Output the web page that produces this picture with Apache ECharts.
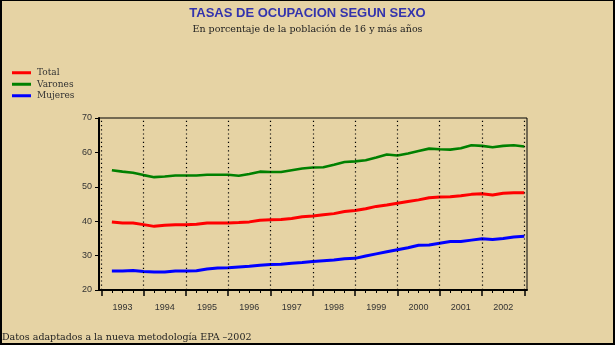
<!DOCTYPE html>
<html><head><meta charset="utf-8">
<script src="https://cdn.jsdelivr.net/npm/echarts@6/dist/echarts.min.js"></script>
<style>
html,body{margin:0;padding:0;background:#E6D3A4}
#wrap{position:relative;width:615px;height:345px}
#chart{width:615px;height:345px}
#frame{position:absolute;left:0;top:0;width:615px;height:345px;box-sizing:border-box;border-style:solid;border-color:#000;border-width:1px 2px 2px 2px;pointer-events:none}
</style></head><body>
<div id="wrap"><div id="chart"></div><div id="frame"></div></div>
<script>
const titleText = 'TASAS DE OCUPACION SEGUN SEXO';
const subtitleText = 'En porcentaje de la población de 16 y más años';
const footnoteText = 'Datos adaptados a la nueva metodología EPA –2002';
const seriesNames = ['Total', 'Varones', 'Mujeres'];
const years = [1993, 1994, 1995, 1996, 1997, 1998, 1999, 2000, 2001, 2002];
const yTicks = [20, 30, 40, 50, 60, 70];
// quarterly values, 1993-I ... 2002-IV
const total = [39.8,39.5,39.5,39.0,38.5,38.8,39.0,39.0,39.1,39.5,
               39.5,39.5,39.6,39.8,40.3,40.4,40.5,40.8,41.3,41.5,
               41.9,42.2,42.8,43.1,43.6,44.3,44.7,45.2,45.7,46.2,
               46.8,47.0,47.1,47.4,47.8,48.0,47.6,48.1,48.3,48.3];
const varones = [54.8,54.4,54.1,53.4,52.8,53.0,53.3,53.3,53.3,53.5,
                 53.5,53.5,53.2,53.7,54.4,54.3,54.3,54.8,55.3,55.6,
                 55.7,56.4,57.2,57.4,57.7,58.5,59.4,59.1,59.7,60.4,
                 61.1,60.9,60.8,61.2,62.1,61.9,61.5,61.9,62.1,61.7];
const mujeres = [25.5,25.5,25.7,25.4,25.2,25.2,25.5,25.5,25.6,26.1,
                 26.4,26.5,26.7,26.9,27.2,27.4,27.5,27.8,28.0,28.3,
                 28.5,28.7,29.1,29.2,29.9,30.5,31.1,31.7,32.3,33.0,
                 33.1,33.6,34.1,34.1,34.5,34.9,34.7,35.0,35.4,35.6];

const quarterTimes = [];
years.forEach(y => { for (let q = 1; q <= 4; q++) quarterTimes.push(y + q / 4); });
const yearBounds = years.concat([years[years.length - 1] + 1]);
const yearMids = years.map(y => y + 0.5);
const minorTicks = [];
years.forEach(y => { for (let q = 1; q <= 3; q++) minorTicks.push(y + q / 4); });

const xMin = 1992.9456, xMax = 2003.0638;
const serifFont = '"DejaVu Serif", "Liberation Serif", serif';
const sansFont = '"Liberation Sans", Arial, sans-serif';

const chart = echarts.init(document.getElementById('chart'), null, {renderer: 'canvas'});
const mk = (name, vals, color, w) => ({
  name, type: 'line', data: quarterTimes.map((t, i) => [t, vals[i]]),
  xAxisIndex: 0, yAxisIndex: 0, symbol: 'none', smooth: false, z: 3,
  lineStyle: {color, width: w}, itemStyle: {color}
});

chart.setOption({
  backgroundColor: '#E6D3A4',
  animation: false,
  title: [
    {text: titleText, left: 'center', top: 2,
     textStyle: {fontFamily: sansFont, fontSize: 13, fontWeight: 'bold', color: '#3333AD'}},
    {text: subtitleText, left: 'center', top: 20,
     textStyle: {fontFamily: serifFont, fontSize: 9.5, fontWeight: 'normal', color: '#222'}},
    {text: footnoteText, left: -3, top: 328,
     textStyle: {fontFamily: serifFont, fontSize: 9.5, fontWeight: 'normal', color: '#222'}}
  ],
  legend: {
    data: seriesNames, orient: 'vertical', left: 7, top: 62,
    icon: 'rect', itemWidth: 19, itemHeight: 3, itemGap: 0,
    textStyle: {fontFamily: serifFont, fontSize: 9, color: '#333', lineHeight: 11.5, padding: [0, 0, 0, 1]}
  },
  grid: {left: 99, top: 118, width: 428, height: 172, show: true,
         borderColor: '#000', borderWidth: 1, backgroundColor: 'transparent'},
  xAxis: [
    {type: 'value', min: xMin, max: xMax, position: 'bottom',
     axisLine: {show: true, lineStyle: {color: '#000', width: 2}},
     axisTick: {show: true, customValues: yearBounds, length: 6, lineStyle: {color: '#000', width: 1.5}},
     axisLabel: {show: true, customValues: yearMids, formatter: v => String(Math.floor(v)),
                 margin: 13, fontFamily: '"Liberation Sans Narrow", ' + sansFont, fontSize: 9, color: '#333'},
     splitLine: {show: false}},
    {type: 'value', min: xMin, max: xMax, position: 'bottom', gridIndex: 0,
     axisLine: {show: false},
     axisTick: {show: true, customValues: minorTicks, length: 3, lineStyle: {color: '#000', width: 1}},
     axisLabel: {show: false}, splitLine: {show: false}}
  ],
  yAxis: [
    {type: 'value', min: 20, max: 70, interval: 10,
     axisLine: {show: true, lineStyle: {color: '#000', width: 2}},
     axisTick: {show: true, length: 4, lineStyle: {color: '#000', width: 1}},
     axisLabel: {margin: 7, fontFamily: sansFont, fontSize: 9, color: '#333',
                 customValues: yTicks},
     splitLine: {show: false}}
  ],
  series: [
    {name: 'grid', type: 'line', data: [], xAxisIndex: 0, yAxisIndex: 0, z: 1, silent: true,
     markLine: {silent: true, symbol: 'none', label: {show: false}, animation: false,
                lineStyle: {color: '#000', type: [1.2, 3], width: 1.2},
                data: yearBounds.map(y => ({xAxis: y}))}},
    mk('Total', total, '#FF0000', 3),
    mk('Varones', varones, '#008000', 2.6),
    mk('Mujeres', mujeres, '#0000FF', 3)
  ]
});
</script>
</body></html>
